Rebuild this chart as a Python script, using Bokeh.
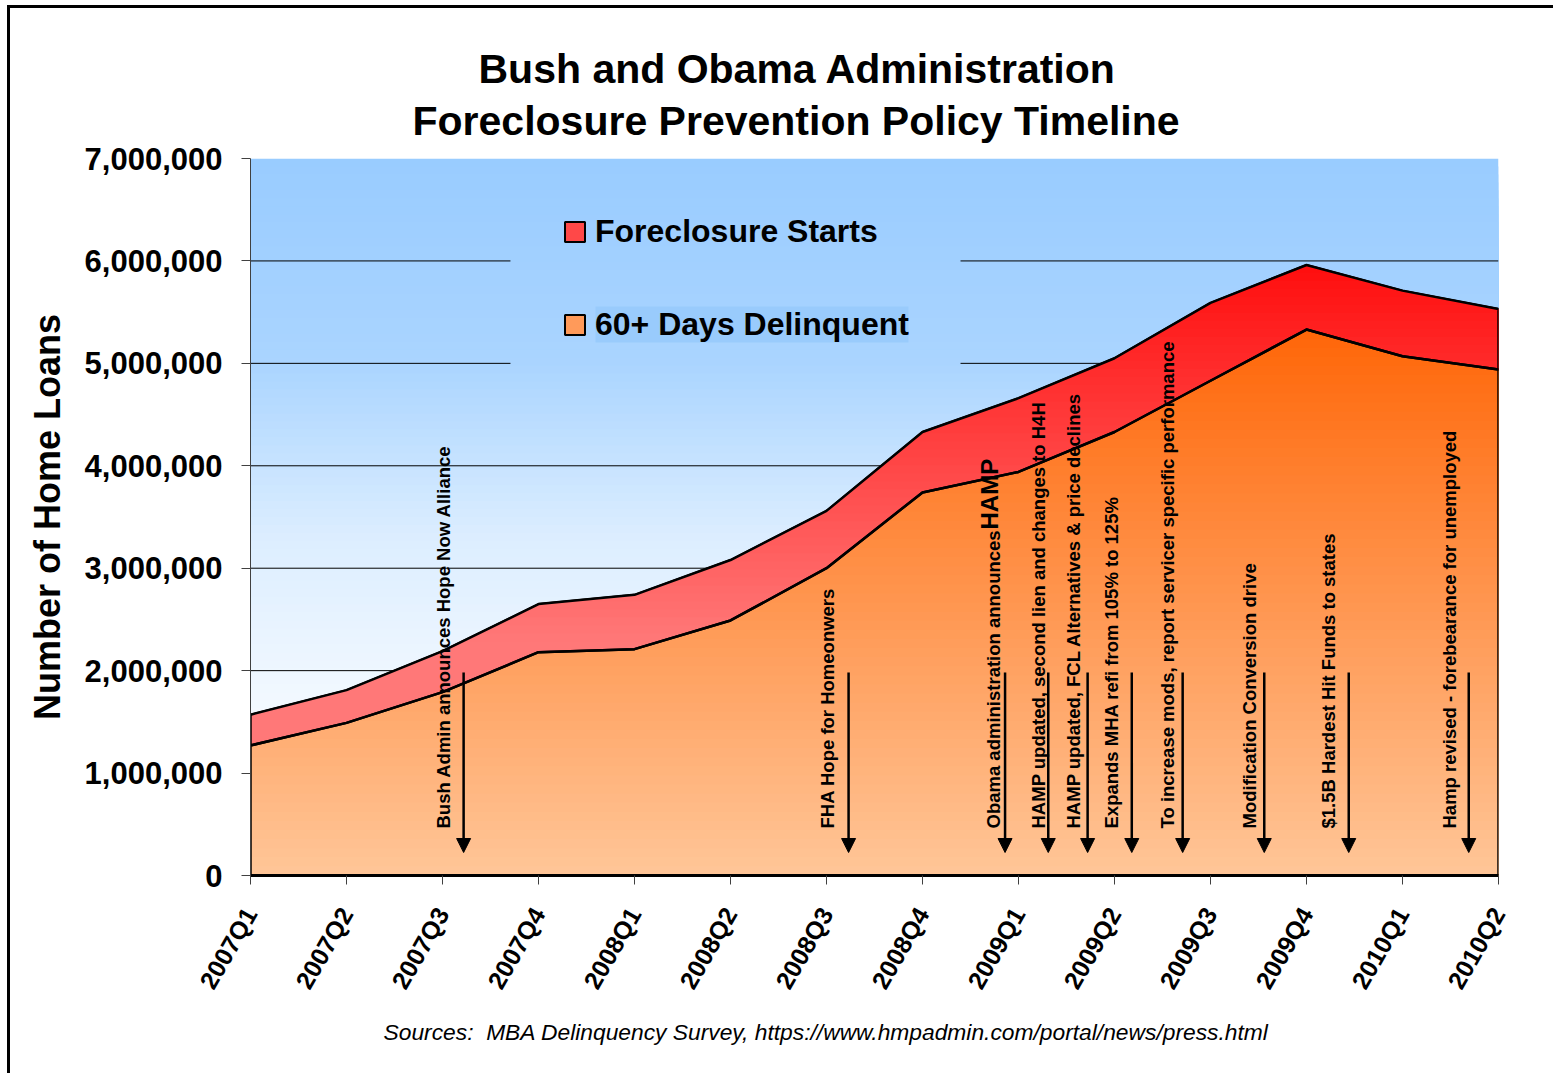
import math
import numpy as np
from bokeh.plotting import figure
from bokeh.models import (Range1d, FixedTicker, NumeralTickFormatter, Legend, Title,
                          LegendItem, Arrow, NormalHead, BoxAnnotation, ColumnDataSource,
                          InlineStyleSheet)
from bokeh.core.properties import value
from bokeh.embed import file_html
from bokeh.resources import INLINE

# ---------------- data ----------------
quarters = ["2007Q1", "2007Q2", "2007Q3", "2007Q4", "2008Q1", "2008Q2", "2008Q3",
            "2008Q4", "2009Q1", "2009Q2", "2009Q3", "2009Q4", "2010Q1", "2010Q2"]
delinquent = [1270000, 1490000, 1790000, 2180000, 2210000, 2490000, 3000000,
              3740000, 3940000, 4330000, 4830000, 5330000, 5070000, 4940000]
foreclosure_starts = [300000, 320000, 400000, 470000, 530000, 590000, 560000,
                      590000, 720000, 720000, 760000, 630000, 640000, 590000]
y_ticks = [0, 1000000, 2000000, 3000000, 4000000, 5000000, 6000000, 7000000]

event_labels = [
    "Bush Admin announces Hope Now Alliance",
    "FHA Hope for Homeonwers",
    "Obama administration announces",
    "HAMP updated, second lien and changes to H4H",
    "HAMP updated, FCL Alternatives & price declines",
    "Expands MHA refi from 105% to 125%",
    "To increase mods, report servicer specific performance",
    "Modification Conversion drive",
    "$1.5B Hardest Hit Funds to states",
    "Hamp revised - forebearance for unemployed",
]
event_pos = [2.22, 6.23, 7.86, 8.31, 8.72, 9.18, 9.71, 10.56, 11.44, 12.69]
label_pos = [2.010, 6.010, 7.737, 8.207, 8.573, 8.969, 9.552, 10.406, 11.229, 12.489]

FONT = "Liberation Sans"

# ---------------- figure ----------------
n = len(quarters)
p = figure(width=1553, height=1073, x_range=Range1d(0, n - 1), y_range=Range1d(0, 7000000),
           output_backend="svg", toolbar_location=None, title=None,
           min_border_left=250, min_border_right=55, min_border_top=158, min_border_bottom=198)
p.xgrid.visible = False
p.ygrid.visible = False
p.outline_line_color = None
p.background_fill_color = "white"
p.border_fill_color = "white"

idx = np.arange(n)
del_arr = np.array(delinquent, dtype=float)
tot_arr = del_arr + np.array(foreclosure_starts, dtype=float)
xs = np.linspace(0, n - 1, 1301)
f_del = np.interp(xs, idx, del_arr)
f_tot = np.interp(xs, idx, tot_arr)


def lerp(c0, c1, t):
    t = min(max(t, 0.0), 1.0)
    return "#%02x%02x%02x" % tuple(int(round(a + (b - a) * t)) for a, b in zip(c0, c1))


# background gradient (light blue top -> white)
bg_stop_v = [0, 800000, 1700000, 3300000, 5000000, 7000000]
bg_stop_r = [255, 255, 242, 220, 170, 153]
NB = 90
bg_tops, bg_cols = [], []
for k in range(NB - 1, -1, -1):
    top = 7000000 * (k + 1) / NB
    c = 7000000 * (k + 0.5) / NB
    r = float(np.interp(c, bg_stop_v, bg_stop_r))
    g = 204 + (r - 153) * 0.5
    bg_tops.append(top)
    bg_cols.append("#%02x%02x%02x" % (int(round(r)), int(round(g)), 255))
p.quad(left=0, right=n - 1, bottom=0, top=bg_tops, fill_color=bg_cols, line_color=None)

# grid lines (interrupted behind the legend)
gap_l, gap_r = 2.708, 7.396
gx0, gx1, gy = [], [], []
for v in y_ticks[1:-1]:
    if v >= 5000000:
        gx0 += [0, gap_r]; gx1 += [gap_l, n - 1]; gy += [v, v]
    else:
        gx0.append(0); gx1.append(n - 1); gy.append(v)
p.segment(x0=gx0, y0=gy, x1=gx1, y1=gy, line_color="black", line_width=1)

# base patches (used by legend)
poly_x_or = [0] + list(idx) + [n - 1]
poly_y_or = [0] + list(del_arr) + [0]
or_patch = p.patch(poly_x_or, poly_y_or, fill_color="#FF9A5A", line_color="black", line_width=2)
poly_x_red = list(idx) + list(idx[::-1])
poly_y_red = list(tot_arr) + list(del_arr[::-1])
red_patch = p.patch(poly_x_red, poly_y_red, fill_color="#FF4848", line_color="black", line_width=2)

# orange gradient bands
NO = 60
max_del = del_arr.max()
o_xs, o_ys, o_cols = [], [], []
for k in range(NO - 1, -1, -1):
    b = max_del * (k + 1) / NO + (1 if k == NO - 1 else 0)
    top = np.minimum(f_del, b)
    o_xs.append(np.concatenate([xs, xs[::-1]]))
    o_ys.append(np.concatenate([top, np.zeros_like(xs)]))
    o_cols.append(lerp((255, 198, 152), (255, 102, 8), (k + 0.5) / NO))
p.patches(o_xs, o_ys, fill_color=o_cols, line_color=None)

# red gradient bands
NR = 60
lo, hi = del_arr.min(), tot_arr.max()
r_xs, r_ys, r_cols = [], [], []
for k in range(NR - 1, -1, -1):
    b = lo + (hi - lo) * (k + 1) / NR + (1 if k == NR - 1 else 0)
    c = lo + (hi - lo) * (k + 0.5) / NR
    top = np.minimum(f_tot, np.maximum(f_del, b))
    r_xs.append(np.concatenate([xs, xs[::-1]]))
    r_ys.append(np.concatenate([top, f_del[::-1]]))
    r_cols.append(lerp((255, 120, 120), (255, 14, 14), (c - 2300000) / (hi - 2300000)))
p.patches(r_xs, r_ys, fill_color=r_cols, line_color=None)

# outlines
p.patch(poly_x_or, poly_y_or, fill_alpha=0, line_color="black", line_width=2.5, line_join="round")
p.patch(poly_x_red, poly_y_red, fill_alpha=0, line_color="black", line_width=2.5, line_join="round")

# event annotations
text_y = 459000
src = ColumnDataSource(dict(x=label_pos, y=[text_y] * len(label_pos), t=event_labels))
p.text(x="x", y="y", text="t", source=src, angle=math.pi / 2, text_font=value(FONT),
       text_font_style="bold", text_font_size="18.5px", text_align="left",
       text_baseline="alphabetic", text_color="black")
p.text(x=[label_pos[2] - 0.04], y=[3378000], text=["HAMP"], angle=math.pi / 2,
       text_font=value(FONT), text_font_style="bold", text_font_size="24px",
       text_align="left", text_baseline="alphabetic", text_color="black")

arrow_src = ColumnDataSource(dict(x=event_pos, ys=[1982000] * len(event_pos),
                                  ye=[224500] * len(event_pos)))
p.add_layout(Arrow(end=NormalHead(size=14, fill_color="black", line_color="black"),
                   x_start="x", y_start="ys", x_end="x", y_end="ye", source=arrow_src,
                   line_color="black", line_width=2.5))

# axes
p.yaxis.ticker = FixedTicker(ticks=y_ticks)
p.yaxis.formatter = NumeralTickFormatter(format="0,0")
p.yaxis.major_label_text_font = FONT
p.yaxis.major_label_text_font_style = "bold"
p.yaxis.major_label_text_font_size = "31px"
p.yaxis.major_label_text_color = "black"
p.yaxis.major_tick_out = 9
p.yaxis.major_tick_in = 0
p.yaxis.minor_tick_line_color = None
p.yaxis.axis_line_color = "#404040"
p.yaxis.major_tick_line_color = "#404040"
p.yaxis.major_label_standoff = 19
p.yaxis.axis_label = "Number of Home Loans"
p.yaxis.axis_label_text_font = FONT
p.yaxis.axis_label_text_font_style = "bold"
p.yaxis.axis_label_text_font_size = "36px"
p.yaxis.axis_label_text_color = "black"
p.yaxis.axis_label_standoff = 14

p.xaxis.ticker = FixedTicker(ticks=list(range(n)))
p.xaxis.major_label_overrides = {i: q for i, q in enumerate(quarters)}
p.xaxis.major_label_orientation = math.pi / 3
p.xaxis.major_label_text_font = FONT
p.xaxis.major_label_text_font_style = "bold"
p.xaxis.major_label_text_font_size = "25px"
p.xaxis.major_label_text_color = "black"
p.xaxis.major_tick_out = 9
p.xaxis.major_tick_in = 0
p.xaxis.minor_tick_line_color = None
p.xaxis.axis_line_color = "black"
p.xaxis.axis_line_width = 3
p.xaxis.major_tick_line_color = "#404040"
p.xaxis.major_label_standoff = 25

# legend label highlight
p.add_layout(BoxAnnotation(left=3.594, right=6.854, top=5555000, bottom=5204000,
                           fill_color="#99CBFC", fill_alpha=1, line_color=None))

legend = Legend(items=[LegendItem(label="Foreclosure Starts", renderers=[red_patch]),
                       LegendItem(label="60+ Days Delinquent", renderers=[or_patch])],
                location=(312, 531), orientation="vertical",
                label_text_font=FONT, label_text_font_style="bold", label_text_font_size="32px",
                label_text_color="black", glyph_width=25, glyph_height=25, label_standoff=8,
                label_height=40, spacing=53, padding=10, margin=0,
                border_line_color=None, background_fill_alpha=0)
p.add_layout(legend)

# titles (stacked above the frame) and source note (below)
t2 = Title(text="Foreclosure Prevention Policy Timeline", align="left", offset=162,
           text_font=FONT, text_font_style="bold", text_font_size="41px",
           text_color="black", standoff=29)
t1 = Title(text="Bush and Obama Administration", align="left", offset=228,
           text_font=FONT, text_font_style="bold", text_font_size="41px",
           text_color="black", standoff=-20)
p.add_layout(t2, "above")
p.add_layout(t1, "above")
src_note = Title(text="Sources:\u00a0 MBA Delinquency Survey, https://www.hmpadmin.com/portal/news/press.html",
                 align="left", offset=133, text_font=FONT, text_font_style="italic",
                 text_font_size="22.8px", text_color="black", standoff=30, vertical_align="top")
p.add_layout(src_note, "below")

# outer frame line (top and left edges, as in the original)
p.stylesheets = [InlineStyleSheet(css=(
    ":host { position: relative; }"
    ":host::after { content: ''; position: absolute; left: 7px; top: 5px; right: 0; bottom: 0;"
    " border-left: 3px solid black; border-top: 3px solid black; pointer-events: none;"
    " z-index: 10; }"))]

open("out.html", "w").write(file_html(p, INLINE))
